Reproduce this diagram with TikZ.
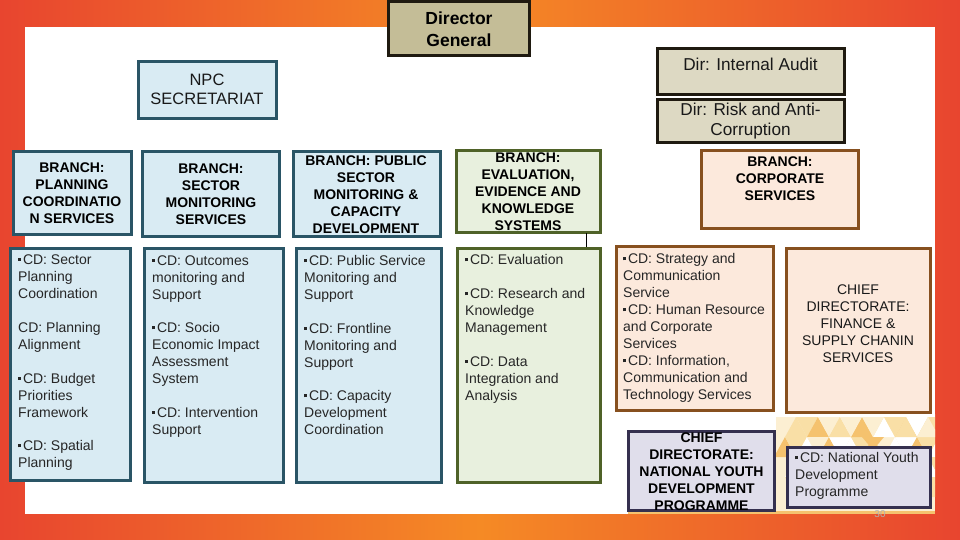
\documentclass[tikz,border=0pt]{standalone}
\usepackage{fontspec}
\setmainfont{Liberation Sans}
\definecolor{tealc}{HTML}{2A5566}
\definecolor{bluef}{HTML}{D9EBF3}
\definecolor{greenc}{HTML}{4F6228}
\definecolor{greenf}{HTML}{E8F0DE}
\definecolor{brownc}{HTML}{87501F}
\definecolor{brownf}{HTML}{FCE9DC}
\definecolor{darkc}{HTML}{1F1A10}
\definecolor{tanf}{HTML}{C4BD97}
\definecolor{tanl}{HTML}{DDD9C3}
\definecolor{purc}{HTML}{35304F}
\definecolor{purf}{HTML}{E0DEEB}
\definecolor{redb}{HTML}{E8452F}
\definecolor{orab}{HTML}{F58A25}
\definecolor{tri0}{HTML}{FFFFFF}
\definecolor{tri1}{HTML}{FCEFD2}
\definecolor{tri2}{HTML}{F9DFA6}
\definecolor{tri3}{HTML}{F5C26E}
\tikzset{
  boxb/.style={draw, line width=3pt},
  blue/.style={boxb, draw=tealc, fill=bluef},
  green/.style={boxb, draw=greenc, fill=greenf},
  brown/.style={boxb, draw=brownc, fill=brownf},
  tan/.style={boxb, draw=darkc, fill=tanl},
  pur/.style={boxb, draw=purc, fill=purf},
  txt/.style={font=\fontsize{14}{17}\selectfont, align=left, anchor=north west, inner sep=0pt, text=black!85},
  ctr/.style={font=\fontsize{14}{17}\selectfont, align=center, anchor=center, inner sep=0pt, text=black!90},
  bld/.style={font=\fontsize{14}{17}\selectfont\bfseries, align=center, anchor=center, inner sep=0pt, text=black},
}
\newcommand{\bu}{\rule[3.5pt]{3pt}{3pt}\kern1.8pt}
\begin{document}
\begin{tikzpicture}[x=1pt,y=-1pt]
\useasboundingbox (0,0) rectangle (960,540);
\shade[left color=redb, right color=orab, shading angle=90] (0,0) rectangle (480,540);
\shade[left color=orab, right color=redb, shading angle=90] (480,0) rectangle (960,540);
\fill[white] (25,27) rectangle (935,514);
% triangle pattern
\begin{scope}
\clip (776,414) rectangle (935,514);
\fill[tri1] (776,414) rectangle (935,514);
\foreach \r in {0,...,4}{
  \foreach \c in {0,...,8}{
    \pgfmathsetmacro{\xa}{774+\c*22+mod(\r,2)*11}
    \pgfmathsetmacro{\ya}{417+\r*20-20}
    \pgfmathtruncatemacro{\ka}{mod(\c*\c*3+\r*5+\c*2+1,4)}
    \pgfmathtruncatemacro{\kb}{mod(\c*5+\r*3+2,3)}
    \fill[tri\ka] (\xa,\ya+20) -- (\xa+11,\ya) -- (\xa+22,\ya+20) -- cycle;
    \fill[tri\kb] (\xa+11,\ya) -- (\xa+33,\ya) -- (\xa+22,\ya+20) -- cycle;
  }
}
\fill[tri0] (776,414) rectangle (935,417);
\fill[tri2] (829,437) -- (840,417) -- (851,437) -- cycle;
\fill[tri3] (851,437) -- (862,417) -- (873,437) -- cycle;
\fill[tri0] (873,437) -- (884,417) -- (895,437) -- cycle;
\fill[tri2] (895,437) -- (906,417) -- (917,437) -- cycle;
\fill[tri1] (917,437) -- (928,417) -- (939,437) -- cycle;
\fill[tri1] (840,417) -- (862,417) -- (851,437) -- cycle;
\fill[tri1] (862,417) -- (884,417) -- (873,437) -- cycle;
\fill[tri2] (884,417) -- (906,417) -- (895,437) -- cycle;
\fill[tri3] (862,437) -- (884,437) -- (873,450) -- cycle;
\end{scope}
\fill[tri3] (628,511) rectangle (935,514);
\node[text=black!30, font=\fontsize{10}{12}\selectfont, inner sep=0pt] (pg) at (880,514) {30};
% boxes
\draw[boxb, draw=darkc, fill=tanf] (388.5,1.5) rectangle (529.5,55.5);
\node[bld, font=\fontsize{17.5}{22}\selectfont\bfseries] (dgt) at (459,29.5) {Director\\General};
\draw[tan] (657.5,48.5) rectangle (844.5,94.5);
\node[ctr, font=\fontsize{17.2}{20}\selectfont] (ia) at (750.5,64) {Dir: Internal Audit};
\draw[tan] (657.5,99.5) rectangle (844.5,142.5);
\node[ctr, font=\fontsize{17.2}{20}\selectfont] (ra) at (750.5,121) {Dir: Risk and Anti-\\Corruption};
\draw[blue] (138.5,61.5) rectangle (276.5,118.5);
\node[ctr, font=\fontsize{16.5}{19}\selectfont] (npc) at (207,89.5) {NPC\\SECRETARIAT};
% branches
\draw[blue] (13.5,151.5) rectangle (131.5,234.5);
\node[bld] (b1) at (72,193.5) {BRANCH:\\PLANNING\\COORDINATIO\\N SERVICES};
\draw[blue] (142.5,151.5) rectangle (279.5,236.5);
\node[bld] (b2) at (211,194.5) {BRANCH:\\SECTOR\\MONITORING\\SERVICES};
\draw[blue] (293.5,151.5) rectangle (440.5,236.5);
\node[bld] (b3) at (366,194.5) {BRANCH: PUBLIC\\SECTOR\\MONITORING \&\\CAPACITY\\DEVELOPMENT};
\draw[green] (456.5,150.5) rectangle (600.5,232.5);
\node[bld] (b4) at (528,191.5) {BRANCH:\\EVALUATION,\\EVIDENCE AND\\KNOWLEDGE\\SYSTEMS};
\draw[brown] (701.5,150.5) rectangle (858.5,228.5);
\node[bld] (b5) at (780,179) {BRANCH:\\CORPORATE\\SERVICES};
% CD boxes
\draw[blue] (10.5,248.5) rectangle (130.5,480.5);
\node[txt] (c1) at (18,254.5) {\bu CD: Sector\\Planning\\Coordination\\[17pt]CD: Planning\\Alignment\\[17pt]\bu CD: Budget\\Priorities\\Framework\\[16.5pt]\bu CD: Spatial\\Planning};
\draw[blue] (144.5,248.5) rectangle (283.5,482);
\node[txt] (c2) at (152,255.5) {\bu CD: Outcomes\\monitoring and\\Support\\[16.5pt]\bu CD: Socio\\Economic Impact\\Assessment\\System\\[16.5pt]\bu CD: Intervention\\Support};
\draw[blue] (296.5,248.5) rectangle (441.5,482);
\node[txt] (c3) at (304,255.5) {\bu CD: Public Service\\Monitoring and\\Support\\[16.5pt]\bu CD: Frontline\\Monitoring and\\Support\\[16.5pt]\bu CD: Capacity\\Development\\Coordination};
\draw[green] (457.5,248.5) rectangle (600.5,482);
\node[txt] (c4) at (465,254.5) {\bu CD: Evaluation\\[17pt]\bu CD: Research and\\Knowledge\\Management\\[16.5pt]\bu CD: Data\\Integration and\\Analysis};
\draw[brown] (616.5,246.5) rectangle (773.5,410.5);
\node[txt] (c5) at (623,253.5) {\bu CD: Strategy and\\Communication\\Service\\\bu CD: Human Resource\\and Corporate\\Services\\\bu CD: Information,\\Communication and\\Technology Services};
\draw[brown] (786.5,248.5) rectangle (930.5,412.5);
\node[ctr] (c6) at (858,323.5) {CHIEF\\DIRECTORATE:\\FINANCE \&\\SUPPLY CHANIN\\SERVICES};
\draw[pur] (628.5,431.5) rectangle (774.5,510.5);
\node[bld] (c7) at (701.5,471.5) {CHIEF\\DIRECTORATE:\\NATIONAL YOUTH\\DEVELOPMENT\\PROGRAMME};
\draw[pur] (787.5,447.5) rectangle (930.5,507.5);
\node[txt] (c8) at (795,452.5) {\bu CD: National Youth\\Development\\Programme};
\coordinate (l1) at (586,233);
\coordinate (l2) at (586,247);
\draw[black, line width=0.8pt] (l1) -- (l2);
\end{tikzpicture}
\end{document}
